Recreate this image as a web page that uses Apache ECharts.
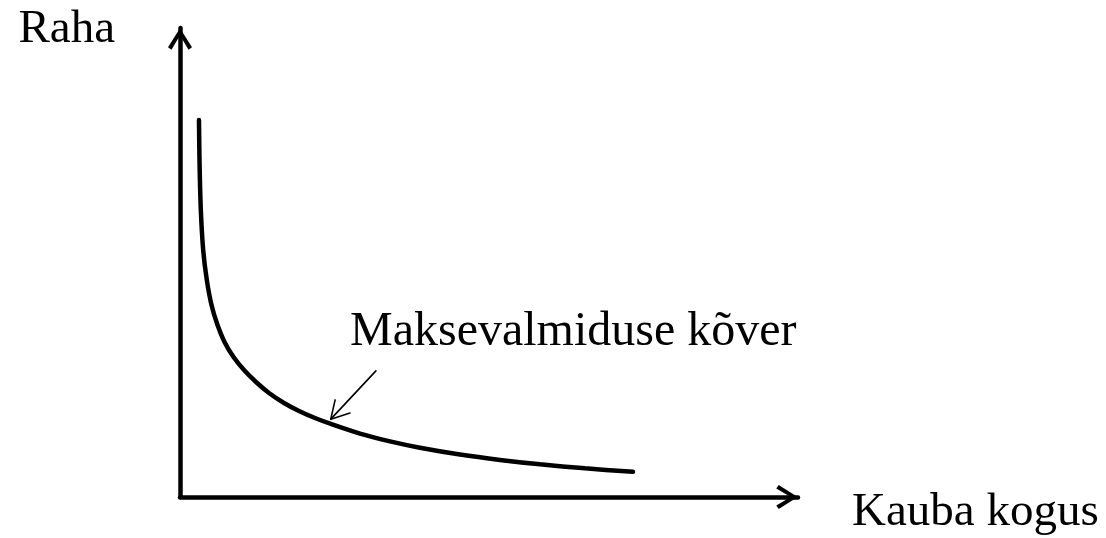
<!DOCTYPE html>
<html>
<head>
<meta charset="utf-8">
<title>Maksevalmiduse kõver</title>
<script src="https://cdn.jsdelivr.net/npm/echarts@6/dist/echarts.min.js"></script>
<style>
    html, body { margin: 0; padding: 0; background: #fff; }
    #chart { width: 1106px; height: 538px; }
</style>
</head>
<body>
<div id="chart"></div>
<script>
// andmed (loetud pildilt, suhtelised ühikud 0..10)
var kogus = [0.307, 0.317, 0.337, 0.375, 0.434, 0.510, 0.607, 0.720, 0.866, 1.036, 1.230, 1.440,
             1.683, 1.926, 2.184, 2.443, 2.913, 3.398, 3.883, 4.531, 5.178, 5.825, 6.553, 7.330];
var raha  = [8.038, 7.079, 6.119, 5.267, 4.627, 4.094, 3.667, 3.305, 2.985, 2.708, 2.452, 2.217,
             2.004, 1.834, 1.684, 1.557, 1.352, 1.186, 1.051, 0.906, 0.791, 0.697, 0.611, 0.536];

var xNimi = 'Kauba kogus';
var yNimi = 'Raha';
var kommentaar = 'Maksevalmiduse kõver';
// noole algus, ots ja noolepea harud kommentaari juures
var nooleAlgus = [3.17, 2.69];
var nooleOts = [2.44, 1.66];
var nooleHaru1 = [2.51, 2.07];
var nooleHaru2 = [2.75, 1.79];

var serifFont = '"Liberation Serif", "Times New Roman", serif';
// lahtine noolepea telgede otsas
var chevron = 'path://M12,0 L24,19 L20.5,21.5 L12,7 L3.5,21.5 L0,19 Z';

var chart = echarts.init(document.getElementById('chart'));

var seriesData = [];
for (var i = 0; i < kogus.length; i++) {
    seriesData.push([kogus[i], raha[i]]);
}

var axisCommon = {
    type: 'value',
    min: 0,
    max: 10,
    splitLine: { show: false },
    axisTick: { show: false },
    axisLabel: { show: false },
    axisLine: {
        show: true,
        onZero: false,
        symbol: ['none', chevron],
        symbolSize: [24, 22],
        symbolOffset: [0, -11],
        lineStyle: { color: '#000', width: 4.5 }
    }
};

var option = {
    animation: false,
    backgroundColor: '#fff',
    grid: { left: 180, right: 308, top: 28, bottom: 41 },
    xAxis: axisCommon,
    yAxis: echarts.util.merge({
        name: yNimi,
        nameLocation: 'end',
        nameGap: -25,
        nameTextStyle: {
            fontFamily: serifFont,
            fontSize: 47,
            color: '#000',
            align: 'right',
            verticalAlign: 'bottom',
            padding: [0, 65, 0, 0]
        }
    }, axisCommon, true),
    series: [
        {
            type: 'line',
            data: seriesData,
            smooth: 0.3,
            showSymbol: false,
            lineStyle: { color: '#000', width: 4.5, cap: 'round' },
            markLine: {
                silent: true,
                symbol: ['none', 'none'],
                lineStyle: { color: '#000', width: 1.6, type: 'solid', cap: 'round' },
                label: { show: false },
                data: [
                    [{ coord: nooleAlgus }, { coord: nooleOts }],
                    [{ coord: nooleHaru1 }, { coord: nooleOts }],
                    [{ coord: nooleHaru2 }, { coord: nooleOts }]
                ]
            }
        }
    ],
    graphic: [
        {
            type: 'text',
            x: 350,
            y: 356,
            style: {
                text: kommentaar,
                font: '48px ' + serifFont,
                fill: '#000',
                verticalAlign: 'bottom'
            }
        },
        {
            // x-telje nimi
            type: 'text',
            x: 852,
            y: 536,
            style: {
                text: xNimi,
                font: '47px ' + serifFont,
                fill: '#000',
                verticalAlign: 'bottom'
            }
        }
    ]
};

chart.setOption(option);
</script>
</body>
</html>
